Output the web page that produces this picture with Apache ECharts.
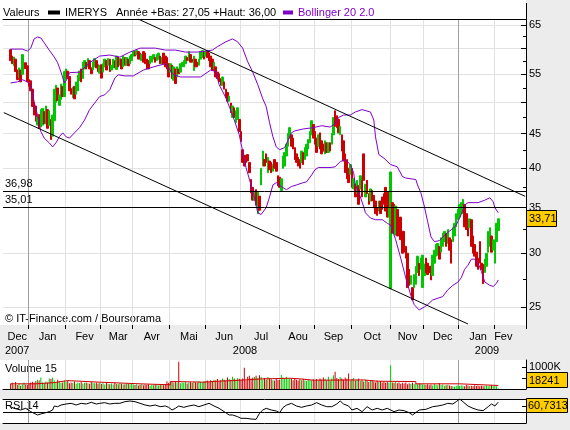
<!DOCTYPE html>
<html>
<head>
<meta charset="utf-8">
<title>IMERYS</title>
<script src="https://cdn.jsdelivr.net/npm/echarts@6/dist/echarts.min.js"></script>
<style>
  html, body { margin: 0; padding: 0; background: #ececec; }
  #chart { width: 570px; height: 430px; }
</style>
</head>
<body>
<div id="chart"></div>
<script>
// trading calendar (Euronext Paris)
const firstDay = '2007-12-07', lastDay = '2009-02-26';
const holidays = ['2007-12-25', '2007-12-26', '2008-01-01', '2008-03-21', '2008-03-24',
  '2008-05-01', '2008-12-25', '2008-12-26', '2009-01-01'];
const monthNames = ['Jan', 'Fev', 'Mar', 'Avr', 'Mai', 'Jun', 'Jul', 'Aou', 'Sep', 'Oct', 'Nov', 'Dec'];

// first quoted day is trading day #4 (2007-12-13)
const dataStart = 4;
// daily [open, close]
const candles = [
  // dec 2007
  [59.8,57.6],[58.5,57.0],[56.6,58.3],[57.9,55.5],[55.8,54.0],[54.3,56.2],[55.8,53.6],[55.0,58.8],[56.0,57.0],[57.2,56.1],[56.6,53.6],
  // jan 2008
  [54.0,52.8],[53.8,52.0],[52.3,49.3],[50.0,47.9],[49.4,46.9],[46.3,47.6],[48.0,45.8],[46.0,48.8],[46.3,49.0],[48.5,46.5],[46.5,49.4],
  [48.8,45.8],[46.2,48.6],[47.2,44.1],[44.6,47.9],[47.0,52.3],[50.0,53.0],[52.5,50.3],[49.5,51.3],[50.5,53.2],[52.8,51.0],[51.0,55.5],
  // feb
  [54.6,56.0],[55.6,54.2],[54.6,52.0],[52.4,51.4],[50.8,52.6],[52.8,50.6],[51.4,53.6],[52.0,54.8],[53.8,55.6],[56.0,53.6],[54.2,57.3],
  [56.0,57.6],[57.3,56.0],[56.4,58.0],[57.6,56.0],[56.2,55.1],[55.8,57.3],[56.4,58.0],[57.6,56.2],[56.8,55.5],[55.2,56.7],
  // mar
  [56.8,54.3],[55.4,57.0],[56.4,57.9],[57.6,55.8],[56.7,58.0],[57.9,55.5],[55.8,56.7],[56.2,57.9],[57.6,56.2],[55.9,58.5],
  [58.3,56.4],[56.7,58.0],[57.9,56.0],[56.4,58.5],[58.2,56.7],[56.7,58.2],[57.9,56.6],[57.0,58.5],[57.6,58.8],
  // apr
  [58.5,59.4],[59.4,58.5],[58.8,59.6],[59.4,57.9],[59.1,57.9],[57.6,58.8],[59.4,57.3],[59.1,57.0],[57.9,56.0],[57.6,56.0],[57.0,58.5],
  [57.3,58.5],[57.9,58.8],[58.2,57.3],[57.6,58.8],[57.9,59.1],[58.5,57.0],[57.0,58.2],[59.1,57.0],[58.5,56.4],[58.2,56.0],[57.0,54.5],
  // may
  [55.4,57.0],[56.7,54.2],[53.9,56.4],[56.0,53.3],[54.5,56.4],[56.0,55.1],[55.4,57.0],[56.4,57.3],[56.4,57.6],[57.0,58.5],[58.2,57.6],
  [57.6,59.4],[58.8,57.3],[57.9,57.3],[55.7,58.5],[57.9,56.4],[57.3,56.4],[56.7,57.9],[57.9,59.4],[58.2,59.6],[59.4,57.9],
  // jun
  [58.5,59.4],[59.4,58.2],[59.1,57.6],[58.5,56.4],[57.9,55.7],[56.0,57.3],[56.4,54.5],[55.4,54.2],[55.1,53.6],[54.2,53.0],[53.0,54.5],
  [53.6,52.3],[52.3,50.8],[51.7,50.2],[50.2,51.1],[49.9,48.3],[47.5,49.4],[49.1,47.5],[46.7,48.6],[47.2,49.1],[47.2,45.3],
  // jul
  [45.3,43.8],[42.6,40.8],[41.8,40.3],[41.7,40.8],[41.9,41.0],[40.8,39.4],[38.5,36.8],[37.5,35.9],[35.9,37.0],[37.2,35.3],[34.3,37.0],
  [36.4,34.7],[37.8,40.0],[40.3,42.4],[41.2,40.3],[42.0,40.8],[39.4,41.5],[41.0,39.8],[40.8,39.4],[39.6,40.5],[41.2,40.0],[40.8,39.6],[39.0,37.7],
  // aug
  [38.8,37.5],[37.1,38.6],[40.0,41.7],[40.3,42.2],[41.7,43.4],[43.1,45.0],[44.3,45.9],[44.8,43.1],[44.3,42.7],[42.9,41.2],[42.0,40.8],
  [41.5,40.3],[41.2,40.0],[40.8,42.4],[42.2,40.5],[41.2,42.9],[41.7,43.4],[42.7,44.1],[43.6,45.3],[44.8,47.0],[46.4,44.3],
  // sep
  [45.3,43.4],[44.3,42.2],[43.1,44.8],[45.1,42.7],[43.9,42.0],[43.4,42.4],[42.0,43.9],[43.6,42.2],[42.2,43.6],[43.6,42.4],[43.4,45.0],
  [44.8,47.5],[48.6,46.1],[47.8,45.9],[47.2,45.1],[44.8,46.1],[44.8,42.4],[43.9,41.0],[42.0,39.4],[41.2,38.6],[40.0,38.1],[39.2,40.5],
  // oct
  [40.0,37.5],[37.3,38.6],[37.9,36.3],[36.7,38.4],[37.7,35.4],[37.3,39.0],[38.4,36.3],[42.0,38.4],[36.3,37.9],[38.4,36.7],[36.7,35.4],
  [35.8,37.3],[37.1,35.8],[36.5,35.0],[35.8,34.3],[35.0,34.1],[34.6,35.8],[35.8,34.3],[36.3,34.8],[36.7,35.4],[37.5,34.6],[36.9,33.9],[33.9,35.0],
  // nov
  [26.6,39.5],[35.6,32.1],[35.4,32.5],[31.9,35.2],[34.8,31.8],[33.6,31.9],[33.9,31.4],[32.3,30.0],[32.3,30.1],[30.7,29.5],
  [30.0,26.7],[28.4,26.9],[27.0,27.8],[26.7,25.6],[26.7,27.9],[27.0,28.7],[28.1,29.7],[29.0,27.8],[28.4,29.5],[26.7,29.8],
  // dec
  [27.8,28.9],[29.5,28.1],[29.0,27.9],[28.7,28.1],[28.7,27.4],[27.8,29.8],[29.0,30.3],[29.7,30.9],[29.8,31.0],[30.7,29.4],[30.1,31.6],
  [30.7,32.1],[31.2,32.3],[32.1,30.7],[31.0,32.5],[31.6,30.3],[31.4,29.0],[31.2,32.7],[31.8,33.2],[32.8,34.3],[33.6,34.8],
  // jan 2009
  [33.9,35.4],[34.3,35.6],[34.6,36.0],[35.4,32.8],[34.3,32.5],[33.6,31.8],[32.7,33.7],[33.6,30.7],[31.8,30.0],[30.9,29.7],[30.1,28.7],
  [29.5,28.4],[31.2,29.0],[29.0,28.4],[28.9,27.05],[28.1,29.4],[28.7,30.0],[30.1,32.3],[30.7,32.7],[31.8,30.1],[30.3,31.4],
  // feb 2009
  [29.0,31.4],[31.2,33.2],[32.4,33.71]
];

// daily volume, thousands of shares
const volumes = [
  240,280,200,320,180,260,150,220,300,200,180,
  250,300,330,280,350,420,380,520,300,260,340,280,480,450,520,380,300,420,350,280,300,380,
  320,380,260,300,280,340,240,300,270,320,250,280,300,260,240,320,280,260,300,250,280,
  230,260,200,280,240,220,250,200,280,230,210,260,240,200,220,250,230,210,240,
  200,180,220,160,190,210,170,200,180,220,150,190,170,210,180,160,200,190,170,230,350,280,
  300,320,280,350,300,1230,260,300,280,320,250,290,310,270,330,300,280,350,320,290,340,
  360,380,320,400,350,420,380,450,360,400,480,420,380,520,460,400,550,480,420,500,460,
  420,480,960,400,560,600,480,520,540,600,500,620,560,440,500,420,540,480,440,400,380,460,420,
  420,640,520,480,560,440,500,460,400,480,420,380,440,400,460,380,360,420,400,380,440,
  400,450,380,480,420,520,460,400,560,380,480,620,780,500,440,540,480,420,520,460,700,380,
  440,500,380,420,480,360,400,340,420,380,320,360,400,340,300,380,320,360,300,340,280,320,300,
  1080,300,280,320,260,300,240,280,250,300,220,260,240,280,230,260,220,250,240,200,
  200,180,220,170,200,160,230,190,170,260,180,200,150,170,190,160,140,120,100,150,160,
  140,170,150,130,180,160,140,150,120,170,140,160,130,150,120,140,160,130,150,170,140,
  160,130,18.241
];

// [trading day #, value]
const volumeAvg = [[4,235],[19,290],[30,380],[38,310],[57,235],[81,190],[99,336],[103,310],[119,354],[127,380],
  [136,460],[154,487],[170,460],[176,400],[184,411],[214,354],[222,336],[245,235],[271,160],[294,160]];

const bollUpper = [[4,59.9],[11,59.9],[14,59.5],[16,60.1],[18,62.0],[20,62.4],[22,62.2],[24,61.2],[27,59.7],[30,58.3],
  [32,57.2],[34,55.4],[36,53.4],[38,54.3],[39,55.3],[45,55.4],[51,57.2],[57,58.5],[63,58.7],[69,58.3],[75,59.3],
  [81,60.1],[90,60.1],[96,59.7],[102,59.7],[108,59.3],[115,59.3],[120,59.5],[124,59.7],[127,60.4],[132,61.4],
  [136,62.0],[139,61.4],[142,60.1],[145,57.4],[148,55.4],[151,53.1],[154,50.6],[156,49.3],[158,46.7],[160,44.5],
  [162,43.0],[164,42.6],[167,42.9],[169,44.0],[171,45.1],[173,45.4],[178,45.7],[184,45.9],[189,46.2],[194,46.0],
  [197,46.5],[199,47.5],[202,47.9],[206,47.9],[209,48.4],[213,48.8],[218,48.4],[220,47.1],[221,44.5],[223,41.9],
  [226,41.4],[230,40.5],[234,40.2],[237,38.9],[239,38.7],[245,38.5],[246,37.8],[248,36.8],[250,35.2],[252,33.4],
  [254,31.7],[256,31.2],[259,31.3],[261,31.7],[264,32.2],[267,32.6],[269,33.0],[272,34.2],[274,35.3],[276,35.6],
  [282,35.6],[286,35.9],[289,36.2],[291,35.7],[292,35.0],[294,34.4]];

const bollLower = [[4,53.4],[8,53.6],[11,54.0],[14,53.6],[16,53.1],[18,50.1],[20,47.9],[22,45.3],[24,44.3],[27,43.6],
  [29,43.0],[31,43.6],[33,44.5],[35,45.1],[37,44.5],[39,44.3],[42,45.1],[45,45.9],[48,47.1],[51,48.8],[54,49.9],
  [57,51.0],[60,51.3],[63,52.2],[66,54.3],[68,54.9],[72,54.7],[77,54.7],[83,55.8],[89,56.4],[96,57.0],[101,54.9],
  [105,54.5],[117,54.5],[123,55.8],[126,55.5],[128,53.1],[132,50.8],[136,47.9],[140,44.8],[144,40.1],[147,37.8],
  [149,36.2],[151,34.4],[153,34.2],[154,34.4],[156,35.0],[158,36.3],[160,37.8],[162,38.1],[165,37.6],[168,37.2],
  [171,37.6],[174,37.8],[178,38.1],[180,38.2],[183,39.1],[185,39.8],[187,40.1],[194,40.1],[197,40.2],[200,40.9],
  [203,41.2],[206,40.5],[208,39.4],[209,37.8],[212,36.3],[214,35.1],[215,34.4],[218,33.8],[221,33.6],[225,33.6],
  [228,33.2],[230,33.0],[233,31.4],[236,29.5],[239,27.6],[242,26.0],[244,25.2],[247,24.75],[250,25.0],[252,25.2],
  [255,25.6],[261,25.9],[264,26.5],[267,26.9],[270,27.2],[272,27.6],[274,28.4],[276,28.8],[278,29.4],[280,29.4],
  [282,29.0],[284,28.2],[286,27.2],[289,26.9],[291,26.8],[293,27.1],[294,27.4]];

const rsiPoints = [[4,47.6],[6,42.8],[10,37.9],[13,42.8],[16,33.1],[18,28.2],[20,23.4],[22,26.3],[25,30.2],[27,33.1],
  [29,37.9],[30,49.6],[32,47.6],[34,52.5],[37,55.4],[40,57.4],[43,52.5],[46,57.4],[49,55.4],[52,60.3],[55,55.4],
  [57,57.4],[60,59.3],[63,55.4],[66,57.4],[69,57.4],[72,62.2],[75,64.2],[78,62.2],[81,57.4],[84,52.5],[87,49.6],
  [90,52.5],[93,47.6],[96,49.6],[98,45.7],[100,37.9],[102,42.8],[104,49.6],[107,45.7],[110,49.6],[113,52.5],
  [116,47.6],[119,52.5],[122,57.4],[125,49.6],[128,42.8],[131,33.1],[134,23.4],[136,23.4],[139,18.5],[141,13.6],
  [144,13.6],[147,11.7],[150,10.7],[152,28.2],[154,37.9],[156,42.8],[159,37.9],[162,35.0],[164,30.0],[166,45.0],
  [168,52.0],[171,57.4],[174,49.6],[177,45.7],[180,49.6],[183,52.5],[186,59.3],[189,52.5],[192,47.6],[195,47.6],
  [198,55.4],[200,64.2],[202,55.4],[205,49.6],[207,37.9],[210,42.8],[213,33.1],[216,47.6],[219,37.9],[222,42.8],
  [225,37.9],[228,42.8],[232,33.1],[235,37.9],[238,36.0],[241,30.2],[243,23.4],[244,28.2],[247,37.9],[251,39.9],
  [255,47.6],[258,49.6],[261,52.5],[264,57.4],[267,55.4],[269,62.2],[271,70.0],[273,62.2],[276,49.6],[279,42.8],
  [282,37.9],[285,36.0],[288,47.6],[290,55.4],[292,49.6],[294,60.7313]];

// drawn lines: support / resistance levels and the two channel lines
const levels = [36.98, 35.01];
const trendUpper = [[80, 66.3], [310, 36.37]];
const trendLower = [[0, 48.3], [276, 23.6]];

const priceMin = 23.52, priceMax = 66.33;
const priceTicks = [25, 30, 35, 40, 45, 50, 55, 60, 65];
const priceMinorTicks = [27.5, 32.5, 37.5, 42.5, 47.5, 52.5, 57.5, 62.5];
const priceLabels = [25, 30, 35, 40, 45, 55, 65];
const volMax = 1315;

const UP = '#00c800', DOWN = '#cc0000', PURPLE = '#8000cc';
const FONT = '"Liberation Sans", Arial, sans-serif';

function tradingDays(from, to) {
  const out = [];
  const d = new Date(from + 'T12:00:00Z');
  const end = new Date(to + 'T12:00:00Z');
  while (d <= end) {
    const wd = d.getUTCDay();
    const s = d.toISOString().slice(0, 10);
    if (wd !== 0 && wd !== 6 && holidays.indexOf(s) < 0) out.push(s);
    d.setUTCDate(d.getUTCDate() + 1);
  }
  return out;
}

const days = tradingDays(firstDay, lastDay);
const monthStart = days.map((d, i) => i > 0 && d.slice(0, 7) !== days[i - 1].slice(0, 7));
const yearStart = days.map((d, i) => i > 0 && d.slice(0, 4) !== days[i - 1].slice(0, 4));
const labelAt = {};
let runStart = 0;
for (let i = 1; i <= days.length; i++) {
  if (i === days.length || monthStart[i]) {
    const mid = i === days.length ? runStart + 5 : runStart + Math.round((i - runStart) / 2);
    labelAt[mid] = monthNames[+days[runStart].slice(5, 7) - 1];
    runStart = i;
  }
}

const candleData = candles.map((c, k) =>
  [days[dataStart + k], c[0], c[1], Math.min(c[0], c[1]), Math.max(c[0], c[1])]);
const volumeData = volumes.map((v, k) => ({
  value: [days[dataStart + k], v],
  itemStyle: { color: candles[k][1] >= candles[k][0] ? UP : DOWN }
}));
const toDay = pts => pts.map(p => [days[p[0]], p[1]]);
const comma = (v, n) => v.toFixed(n).replace('.', ',');

const lastClose = candles[candles.length - 1][1];
const lastVol = Math.round(volumes[volumes.length - 1] * 1000);
const lastRsi = rsiPoints[rsiPoints.length - 1][1];

function xAxisFor(grid, year, extra) {
  const ax = {
    type: 'category', gridIndex: grid, data: days, boundaryGap: true,
    position: year ? 'top' : 'bottom',
    axisLine: { show: false }, axisTick: { show: false }, axisLabel: { show: false },
    splitLine: year
      ? { show: true, interval: i => yearStart[i], lineStyle: { color: '#a0a0a0' } }
      : { show: true, interval: i => monthStart[i] && !yearStart[i], lineStyle: { color: '#e2e2e2' } }
  };
  return Object.assign(ax, extra || {});
}
const blackLine = { show: true, lineStyle: { color: '#000', width: 1 } };

const chart = echarts.init(document.getElementById('chart'));
chart.setOption({
  backgroundColor: '#ececec',
  animation: false,
  textStyle: { fontFamily: FONT },
  grid: [
    { left: 3, right: 44, top: 19, height: 306, show: true, backgroundColor: '#fff', borderWidth: 0 },
    { left: 3, right: 44, top: 360, height: 29, show: true, backgroundColor: '#fff', borderWidth: 0 },
    { left: 3, right: 44, top: 399, height: 24, show: true, backgroundColor: '#fff', borderWidth: 0 }
  ],
  legend: [
    {
      left: 48, top: 7, padding: 0, itemWidth: 12, itemHeight: 4, selectedMode: false,
      textStyle: { fontSize: 11, color: '#000', fontFamily: FONT },
      data: [{
        name: 'IMERYS', icon: 'rect',
        itemStyle: { color: '#000', borderColor: '#000', borderWidth: 0, opacity: 1 }
      }]
    },
    {
      left: 283, top: 7, padding: 0, itemWidth: 10, itemHeight: 4, selectedMode: false,
      textStyle: { fontSize: 11, color: PURPLE, fontFamily: FONT },
      data: [{ name: 'Bollinger 20 2.0', icon: 'rect', itemStyle: { color: PURPLE } }]
    }
  ],
  xAxis: [
    xAxisFor(0, false, {
      axisTick: { show: true, interval: i => monthStart[i], length: 4, lineStyle: { color: '#000' } },
      axisLabel: {
        show: true, interval: i => labelAt[i] !== undefined, formatter: (v, i) => labelAt[i],
        fontSize: 11, color: '#000', margin: 6
      }
    }),
    xAxisFor(0, true, { axisLine: blackLine }),
    xAxisFor(1, false, { axisLine: blackLine }),
    xAxisFor(1, true),
    xAxisFor(2, false, { axisLine: blackLine }),
    xAxisFor(2, true, { axisLine: blackLine })
  ],
  yAxis: [
    { type: 'log', gridIndex: 0, logBase: 10, min: priceMin, max: priceMax, show: false },
    {
      type: 'value', gridIndex: 0, position: 'right', min: Math.log(priceMin), max: Math.log(priceMax),
      axisLine: blackLine,
      axisTick: { show: true, inside: true, length: 5, customValues: priceTicks.map(Math.log), lineStyle: { color: '#000' } },
      axisLabel: {
        show: true, customValues: priceLabels.map(Math.log), formatter: v => String(Math.round(Math.exp(v))),
        margin: 3, fontSize: 11, color: '#000'
      },
      splitLine: { show: true, lineStyle: { color: '#e2e2e2' } }
    },
    {
      type: 'value', gridIndex: 0, position: 'right', min: Math.log(priceMin), max: Math.log(priceMax),
      axisLine: { show: false }, axisLabel: { show: false }, splitLine: { show: false },
      axisTick: { show: true, inside: true, length: 3, customValues: priceMinorTicks.map(Math.log), lineStyle: { color: '#000' } }
    },
    {
      type: 'value', gridIndex: 1, position: 'right', min: 0, max: volMax,
      axisLine: blackLine, splitLine: { show: false },
      axisTick: { show: true, inside: true, length: 4, customValues: [500, 1000], lineStyle: { color: '#000' } },
      axisLabel: { show: true, customValues: [1000], formatter: v => v + 'K', margin: 3, fontSize: 11, color: '#000' }
    },
    {
      type: 'value', gridIndex: 2, position: 'right', min: 0, max: 70,
      axisLine: blackLine, splitLine: { show: false }, axisLabel: { show: false },
      axisTick: { show: true, inside: true, length: 4, customValues: [30, 50], lineStyle: { color: '#000' } }
    }
  ],
  series: [
    {
      name: 'IMERYS', type: 'candlestick', xAxisIndex: 0, yAxisIndex: 0, barWidth: 2,
      dimensions: ['date', 'open', 'close', 'lowest', 'highest'],
      encode: { x: 'date', y: ['open', 'close', 'lowest', 'highest'] },
      data: candleData,
      itemStyle: { color: UP, color0: DOWN, borderColor: UP, borderColor0: DOWN, borderWidth: 1 },
      markLine: {
        silent: true, symbol: ['none', 'none'],
        lineStyle: { color: '#000', width: 1, type: 'solid' },
        label: { show: false },
        data: levels.map(v => ({
          yAxis: v,
          label: { show: true, position: 'insideStartTop', formatter: comma(v, 2), color: '#000', fontSize: 11, distance: [2, 2] }
        })).concat([
          [{ coord: [days[trendUpper[0][0]], trendUpper[0][1]] }, { coord: [days[trendUpper[1][0]], trendUpper[1][1]] }],
          [{ coord: [days[trendLower[0][0]], trendLower[0][1]] }, { coord: [days[trendLower[1][0]], trendLower[1][1]] }]
        ])
      }
    },
    {
      name: 'Bollinger 20 2.0', type: 'line', xAxisIndex: 0, yAxisIndex: 0, showSymbol: false,
      data: toDay(bollUpper), lineStyle: { color: PURPLE, width: 1 }, itemStyle: { color: PURPLE }
    },
    {
      name: 'Bollinger 20 2.0', type: 'line', xAxisIndex: 0, yAxisIndex: 0, showSymbol: false,
      data: toDay(bollLower), lineStyle: { color: PURPLE, width: 1 }, itemStyle: { color: PURPLE }
    },
    { name: 'Volume', type: 'bar', xAxisIndex: 2, yAxisIndex: 3, barWidth: 1, data: volumeData },
    {
      name: 'Volume 15', type: 'line', xAxisIndex: 2, yAxisIndex: 3, step: 'end', showSymbol: false,
      data: toDay(volumeAvg), lineStyle: { color: DOWN, width: 1 }
    },
    {
      name: 'RSI 14', type: 'line', xAxisIndex: 4, yAxisIndex: 4, showSymbol: false,
      data: toDay(rsiPoints), lineStyle: { color: '#000', width: 1 },
      markLine: {
        silent: true, symbol: ['none', 'none'], label: { show: false },
        lineStyle: { color: '#000', width: 1, type: 'solid' },
        data: [{ yAxis: 30 }]
      }
    }
  ],
  graphic: [
    { type: 'rect', z: -1, shape: { x: 0, y: 0, width: 526, height: 19 }, style: { fill: '#fff' } },
    { type: 'rect', z: -1, shape: { x: 0, y: 19, width: 3, height: 306 }, style: { fill: '#fff' } },
    { type: 'rect', z: -1, shape: { x: 0, y: 360, width: 3, height: 29 }, style: { fill: '#fff' } },
    { type: 'rect', z: -1, shape: { x: 0, y: 399, width: 3, height: 24 }, style: { fill: '#fff' } },
    { type: 'line', shape: { x1: 526.5, y1: 3, x2: 526.5, y2: 19 }, style: { stroke: '#000', lineWidth: 1 } },
    { type: 'text', x: 3, y: 13, style: { text: 'Valeurs', font: '11px ' + FONT, fill: '#000', verticalAlign: 'middle' } },
    { type: 'text', x: 116, y: 13, style: { text: 'Année +Bas: 27,05 +Haut: 36,00', font: '11px ' + FONT, fill: '#000', verticalAlign: 'middle' } },
    { type: 'text', x: 5, y: 319, style: { text: '© IT-Finance.com / Boursorama', font: '11px ' + FONT, fill: '#000', verticalAlign: 'middle' } },
    { type: 'text', x: 5, y: 351, style: { text: '2007', font: '11px ' + FONT, fill: '#000', verticalAlign: 'middle' } },
    { type: 'text', x: 245, y: 351, style: { text: '2008', font: '11px ' + FONT, fill: '#000', verticalAlign: 'middle', align: 'center' } },
    { type: 'text', x: 487, y: 351, style: { text: '2009', font: '11px ' + FONT, fill: '#000', verticalAlign: 'middle', align: 'center' } },
    { type: 'text', x: 5, y: 369, style: { text: 'Volume 15', font: '11px ' + FONT, fill: '#000', verticalAlign: 'middle' } },
    { type: 'text', x: 5, y: 406, style: { text: 'RSI 14', font: '11px ' + FONT, fill: '#000', verticalAlign: 'middle' } },
    { type: 'rect', shape: { x: 526.5, y: 210.5, width: 30, height: 16 }, style: { fill: '#ffcc00', stroke: '#000', lineWidth: 1 } },
    { type: 'text', x: 529, y: 219, style: { text: comma(lastClose, 2), font: '11px ' + FONT, fill: '#000', verticalAlign: 'middle' } },
    { type: 'rect', shape: { x: 526.5, y: 372.5, width: 41, height: 15 }, style: { fill: '#ffcc00', stroke: '#000', lineWidth: 1 } },
    { type: 'text', x: 529, y: 380.5, style: { text: String(lastVol), font: '11px ' + FONT, fill: '#000', verticalAlign: 'middle' } },
    { type: 'rect', shape: { x: 526.5, y: 398.5, width: 41, height: 14 }, style: { fill: '#ffcc00', stroke: '#000', lineWidth: 1 } },
    { type: 'text', x: 528, y: 406, style: { text: comma(lastRsi, 4), font: '11px ' + FONT, fill: '#000', verticalAlign: 'middle' } }
  ]
});
</script>
</body>
</html>
